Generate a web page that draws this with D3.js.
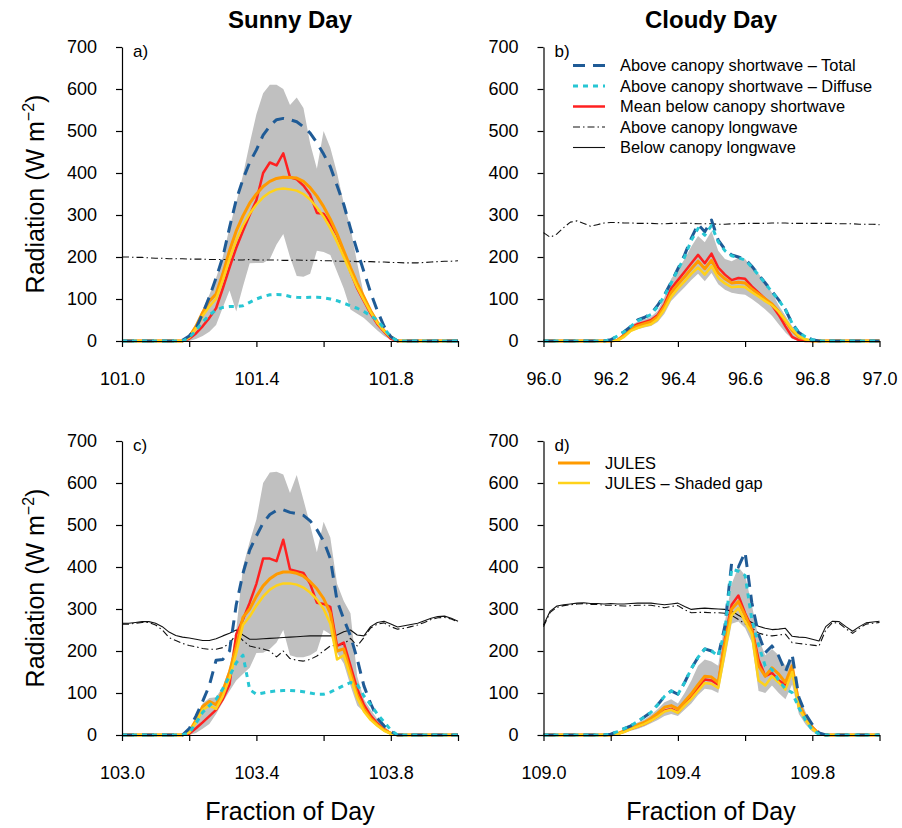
<!DOCTYPE html>
<html>
<head>
<meta charset="utf-8">
<script src="https://cdn.jsdelivr.net/npm/d3@7"></script>
<style>
  body { margin: 0; background: #fff; }
  text { font-family: Arial, "Liberation Sans", sans-serif; fill: #000; }
</style>
</head>
<body>
<svg id="chart" width="902" height="828"></svg>
<script>
// time step of the records (fraction of day)
var step = 0.02;

var yTicks = [0, 100, 200, 300, 400, 500, 600, 700];
var xTicksA = [101.0, 101.2, 101.4, 101.6, 101.8, 102.0], xLabelsA = [101.0, 101.4, 101.8];
var xTicksB = [96.0, 96.2, 96.4, 96.6, 96.8, 97.0],       xLabelsB = [96.0, 96.2, 96.4, 96.6, 96.8, 97.0];
var xTicksC = [103.0, 103.2, 103.4, 103.6, 103.8, 104.0], xLabelsC = [103.0, 103.4, 103.8];
var xTicksD = [109.0, 109.2, 109.4, 109.6, 109.8, 110.0], xLabelsD = [109.0, 109.4, 109.8];

// ---- a) sunny day 101 ----
var totalA   = [0,0,0,0,0,0,0,0,0, 2,12,30,65,105,150,200,270,336,385,425,455,490,512,527,530,527,522,510,495,472,445,415,370,325,268,215,165,115,72,35,10,0, 0,0,0,0,0,0,0,0,0];
var diffuseA = [0,0,0,0,0,0,0,0,0, 0,8,25,45,62,74,80,82,82,84,92,100,106,110,111,110,106,104,103,104,104,103,100,96,90,84,78,70,60,50,30,10,0, 0,0,0,0,0,0,0,0,0];
var redA     = [0,0,0,0,0,0,0,0,0, 0,5,18,35,55,78,125,175,222,262,300,335,400,425,418,447,390,385,370,348,305,303,280,252,210,165,125,95,65,40,22,5,0, 0,0,0,0,0,0,0,0,0];
var orangeA  = [0,0,0,0,0,0,0,0,0, 0,10,35,68,95,112,160,215,262,298,328,350,368,380,387,390,389,388,380,365,345,320,290,255,215,175,138,105,72,45,25,10,0, 0,0,0,0,0,0,0,0,0];
var yellowA  = [0,0,0,0,0,0,0,0,0, 0,8,30,60,82,100,145,195,240,275,303,325,342,354,361,363,361,358,350,337,318,296,268,236,200,163,128,97,68,43,24,9,0, 0,0,0,0,0,0,0,0,0];
var upperA   = [0,0,0,0,0,0,0,0,0, 0,15,40,75,110,150,200,270,330,395,470,540,590,610,610,600,562,580,555,470,410,500,460,400,328,270,185,110,78,50,28,12,0, 0,0,0,0,0,0,0,0,0];
var lowerA   = [0,0,0,0,0,0,0,0,0, 0,0,5,12,22,38,80,120,70,130,185,186,186,195,230,255,200,155,153,160,215,212,205,165,125,75,65,55,40,25,12,3,0, 0,0,0,0,0,0,0,0,0];
var lwAboveA = [200,200,199,199,198,197,197,196,196,196,195,195,195,194,194,194,194,193,193,194,193,193,193,193,192,192,193,192,192,192,191,191,190,190,190,189,189,189,188,188,187,187,186,186,186,187,188,189,190,190,191];

// ---- b) cloudy day 96 ----
var totalB   = [0,0,0,0,0,0,0,0,0, 0,3,12,22,35,50,56,65,85,110,140,172,205,245,278,260,288,240,218,205,200,195,178,158,138,118,98,75,42,20,10,3,0, 0,0,0,0,0,0,0,0,0];
var diffuseB = [0,0,0,0,0,0,0,0,0, 0,3,12,22,35,48,55,63,82,108,138,170,200,240,268,252,275,236,215,203,198,193,176,157,137,117,97,75,42,20,10,3,0, 0,0,0,0,0,0,0,0,0];
var redB     = [0,0,0,0,0,0,0,0,0, 0,0,2,15,32,40,45,50,62,88,125,145,165,185,205,185,208,175,158,145,150,148,130,115,100,85,62,35,10,2,0,0,0, 0,0,0,0,0,0,0,0,0];
var orangeB  = [0,0,0,0,0,0,0,0,0, 0,0,2,13,28,36,41,46,58,82,115,135,153,172,190,172,192,162,148,138,140,138,124,112,100,88,70,48,25,10,3,0,0, 0,0,0,0,0,0,0,0,0];
var yellowB  = [0,0,0,0,0,0,0,0,0, 0,0,1,10,24,31,36,40,52,75,105,125,142,160,175,158,178,150,137,128,130,128,116,106,95,85,70,50,28,12,4,0,0, 0,0,0,0,0,0,0,0,0];
var upperB   = [0,0,0,0,0,0,0,0,0, 0,0,4,20,38,46,52,58,72,105,148,170,195,225,250,235,262,215,195,190,198,195,175,160,140,115,85,60,35,15,5,0,0, 0,0,0,0,0,0,0,0,0];
var lowerB   = [0,0,0,0,0,0,0,0,0, 0,0,0,8,22,28,32,36,45,65,95,112,128,145,160,142,162,135,122,115,112,110,100,88,75,60,40,20,5,0,0,0,0, 0,0,0,0,0,0,0,0,0];
var lwAboveB = [258,247,255,270,283,286,280,273,277,281,282,282,281,281,280,280,280,279,279,280,280,281,280,279,279,279,278,278,279,279,280,280,280,280,281,281,281,280,280,280,280,280,280,280,279,279,279,278,278,278,277];

// ---- c) sunny day 103 ----
var totalC   = [0,0,0,0,0,0,0,0,0, 0,15,45,80,118,178,180,200,310,385,440,474,505,525,535,536,530,527,523,510,489,462,420,320,276,236,181,117,75,40,22,8,0, 0,0,0,0,0,0,0,0,0];
var diffuseC = [0,0,0,0,0,0,0,0,0, 0,5,28,54,70,85,110,140,172,190,108,97,100,103,105,106,106,105,103,100,97,97,102,110,118,125,120,93,72,50,31,12,0, 0,0,0,0,0,0,0,0,0];
var redC     = [0,0,0,0,0,0,0,0,0, 0,3,16,30,45,60,85,120,240,275,315,360,420,420,414,465,394,390,386,360,315,312,305,212,220,165,110,72,46,28,14,4,0, 0,0,0,0,0,0,0,0,0];
var orangeC  = [0,0,0,0,0,0,0,0,0, 0,8,35,68,80,72,105,150,210,280,300,330,355,372,383,388,388,385,378,365,348,325,290,200,205,150,95,62,40,24,12,4,0, 0,0,0,0,0,0,0,0,0];
var yellowC  = [0,0,0,0,0,0,0,0,0, 0,6,30,60,70,62,92,135,195,262,282,308,330,346,356,361,361,358,351,339,323,300,265,180,190,138,88,56,36,22,10,3,0, 0,0,0,0,0,0,0,0,0];
var upperC   = [0,0,0,0,0,0,0,0,0, 0,10,40,75,88,90,115,160,250,400,460,513,600,625,627,620,576,619,560,500,435,508,470,360,319,290,140,85,60,38,22,5,0, 0,0,0,0,0,0,0,0,0];
var lowerC   = [0,0,0,0,0,0,0,0,0, 0,0,5,15,26,50,78,105,130,145,160,195,196,205,220,250,190,185,185,190,200,250,240,196,170,117,70,55,45,30,18,5,0, 0,0,0,0,0,0,0,0,0];
var lwAboveC = [264,264,266,268,268,262,250,232,225,218,213,210,206,204,204,208,218,240,225,212,208,205,200,186,200,182,178,176,180,188,200,212,214,216,230,212,232,255,264,267,258,252,254,258,262,268,275,279,280,276,269];
var lwBelowC = [266,266,268,270,270,266,258,245,237,233,231,228,225,225,229,236,242,250,238,228,228,229,230,231,232,233,234,235,236,236,236,236,238,246,250,238,236,258,268,271,264,257,260,263,266,272,278,282,283,278,271];

// ---- d) cloudy day 109 ----
var totalD   = [0,0,0,0,0,0,0,0,0, 0,2,8,15,22,32,43,54,72,92,105,97,125,158,185,205,200,188,260,410,400,435,315,240,196,212,188,150,192,90,50,25,5, 0,0,0,0,0,0,0,0,0];
var diffuseD = [0,0,0,0,0,0,0,0,0, 0,2,8,15,22,32,43,54,72,92,105,97,125,158,185,205,200,188,250,395,390,380,275,215,164,156,130,110,101,65,35,12,2, 0,0,0,0,0,0,0,0,0];
var redD     = [0,0,0,0,0,0,0,0,0, 0,0,2,8,15,20,26,35,45,58,62,54,72,90,112,132,130,120,230,310,332,290,256,180,140,148,130,120,157,70,40,18,3, 0,0,0,0,0,0,0,0,0];
var orangeD  = [0,0,0,0,0,0,0,0,0, 0,0,3,10,18,24,30,40,52,66,70,62,80,98,120,140,138,125,220,300,318,285,250,165,140,160,145,125,165,75,42,18,3, 0,0,0,0,0,0,0,0,0];
var yellowD  = [0,0,0,0,0,0,0,0,0, 0,0,2,7,14,20,26,34,44,56,60,53,70,86,105,124,122,112,200,285,302,270,240,130,118,140,125,108,150,65,36,14,2, 0,0,0,0,0,0,0,0,0];
var upperD   = [0,0,0,0,0,0,0,0,0, 0,0,4,12,22,30,37,48,62,78,85,75,100,130,165,180,175,165,270,360,400,380,310,230,190,205,190,165,180,95,55,25,5, 0,0,0,0,0,0,0,0,0];
var lowerD   = [0,0,0,0,0,0,0,0,0, 0,0,1,5,10,14,20,28,36,45,50,45,60,75,95,110,108,100,180,265,270,255,220,105,100,118,100,85,120,50,25,8,1, 0,0,0,0,0,0,0,0,0];
var lwAboveD = [258,292,304,308,310,312,313,311,311,309,309,308,307,308,309,309,309,306,303,306,308,298,291,292,292,291,291,290,285,275,265,255,243,238,236,238,240,220,218,216,214,212,250,268,266,253,242,254,264,266,268];
var lwBelowD = [262,295,307,310,312,314,315,313,313,312,313,312,312,313,314,314,314,312,310,312,314,306,299,301,302,301,300,299,295,285,277,268,259,254,251,252,254,235,233,232,228,224,258,271,270,258,247,258,267,269,271];

// line styles
var styles = {
  total:   {stroke: "#1f5b96", width: 3,   dash: "12,8",       name: "Above canopy shortwave \u2013 Total"},
  diffuse: {stroke: "#27c6d3", width: 3,   dash: "5,5",        name: "Above canopy shortwave \u2013 Diffuse"},
  red:     {stroke: "#ff2020", width: 2.5, dash: null,         name: "Mean below canopy shortwave"},
  lwAbove: {stroke: "#111",    width: 1.1, dash: "7,3,1.5,3",  name: "Above canopy longwave"},
  lwBelow: {stroke: "#111",    width: 1.1, dash: null,         name: "Below canopy longwave"},
  orange:  {stroke: "#ff9a00", width: 3,   dash: null,         name: "JULES"},
  yellow:  {stroke: "#ffd21a", width: 2.5, dash: null,         name: "JULES \u2013 Shaded gap"}
};

var panels = [
  {tag: "a)", left: 122,   top: 47,  day: 101, ticks: xTicksA, labels: xLabelsA,
   s: {total: totalA, diffuse: diffuseA, red: redA, orange: orangeA, yellow: yellowA, upper: upperA, lower: lowerA, lwAbove: lwAboveA}},
  {tag: "b)", left: 543.5, top: 47,  day: 96,  ticks: xTicksB, labels: xLabelsB,
   s: {total: totalB, diffuse: diffuseB, red: redB, orange: orangeB, yellow: yellowB, upper: upperB, lower: lowerB, lwAbove: lwAboveB}},
  {tag: "c)", left: 122,   top: 441, day: 103, ticks: xTicksC, labels: xLabelsC,
   s: {total: totalC, diffuse: diffuseC, red: redC, orange: orangeC, yellow: yellowC, upper: upperC, lower: lowerC, lwAbove: lwAboveC, lwBelow: lwBelowC}},
  {tag: "d)", left: 543.5, top: 441, day: 109, ticks: xTicksD, labels: xLabelsD,
   s: {total: totalD, diffuse: diffuseD, red: redD, orange: orangeD, yellow: yellowD, upper: upperD, lower: lowerD, lwAbove: lwAboveD, lwBelow: lwBelowD}}
];

var pw = 336, ph = 294;
var svg = d3.select("#chart");

panels.forEach(function(p) {
  var x = d3.scaleLinear().domain([p.day, p.day + 1]).range([p.left, p.left + pw]);
  var y = d3.scaleLinear().domain([0, 700]).range([p.top + ph, p.top]);
  var t = function(i) { return p.day + i * step; };
  var g = svg.append("g");

  // min-max band
  var area = d3.area()
    .x(function(d, i) { return x(t(i)); })
    .y0(function(d, i) { return y(p.s.lower[i]); })
    .y1(function(d) { return y(d); });
  g.append("path").attr("d", area(p.s.upper)).attr("fill", "#c0c0c0");

  var line = d3.line()
    .x(function(d, i) { return x(t(i)); })
    .y(function(d) { return y(d); });

  ["lwAbove", "lwBelow", "red", "orange", "yellow", "total", "diffuse"].forEach(function(k) {
    if (!p.s[k]) return;
    var st = styles[k];
    g.append("path")
      .attr("d", line(p.s[k]))
      .attr("fill", "none")
      .attr("stroke", st.stroke)
      .attr("stroke-width", st.width)
      .attr("stroke-dasharray", st.dash)
      .attr("stroke-linejoin", "round");
  });

  // axes
  var xAxis = d3.axisBottom(x).tickValues(p.ticks).tickSize(6).tickSizeOuter(0).tickPadding(25)
    .tickFormat(function(d) {
      var show = p.labels.some(function(l) { return Math.abs(l - d) < 1e-6; });
      return show ? d3.format(".1f")(d) : "";
    });
  var gx = g.append("g").attr("transform", "translate(0," + (p.top + ph) + ")").call(xAxis);

  var yAxis = d3.axisLeft(y).tickValues(yTicks).tickSize(6).tickSizeOuter(0).tickPadding(19);
  var gy = g.append("g").attr("transform", "translate(" + p.left + ",0)").call(yAxis);

  [gx, gy].forEach(function(a) {
    a.attr("font-size", 18).attr("font-family", "Arial, 'Liberation Sans', sans-serif");
    a.selectAll("path, line").attr("stroke", "#000").attr("stroke-width", 1.2);
    a.selectAll("text").attr("fill", "#000");
  });

  g.append("text").attr("x", p.left + 11).attr("y", p.top + 10)
    .attr("font-size", 17).text(p.tag);
});

// titles
svg.append("text").attr("x", 290).attr("y", 28).attr("text-anchor", "middle")
  .attr("font-size", 24).attr("font-weight", "bold").text("Sunny Day");
svg.append("text").attr("x", 711).attr("y", 28).attr("text-anchor", "middle")
  .attr("font-size", 24).attr("font-weight", "bold").text("Cloudy Day");

// axis titles
[194, 588].forEach(function(cy) {
  var tx = svg.append("text").attr("text-anchor", "middle").attr("font-size", 25)
    .attr("transform", "translate(44," + cy + ") rotate(-90)");
  tx.append("tspan").text("Radiation (W m");
  tx.append("tspan").attr("font-size", 16).attr("dy", -10).text("\u22122");
  tx.append("tspan").attr("dy", 10).text(")");
});
[290, 711].forEach(function(cx) {
  svg.append("text").attr("x", cx).attr("y", 820).attr("text-anchor", "middle")
    .attr("font-size", 25).text("Fraction of Day");
});

// legends
function legend(keys, x0, y0, gap) {
  keys.forEach(function(k, i) {
    var st = styles[k], yy = y0 + i * gap;
    svg.append("line").attr("x1", x0).attr("x2", x0 + 32).attr("y1", yy).attr("y2", yy)
      .attr("stroke", st.stroke).attr("stroke-width", st.width).attr("stroke-dasharray", st.dash);
    svg.append("text").attr("x", x0 + 47).attr("y", yy).attr("dy", "0.35em")
      .attr("font-size", 16.4).text(st.name);
  });
}
legend(["total", "diffuse", "red", "lwAbove", "lwBelow"], 573, 65.5, 20.5);
legend(["orange", "yellow"], 558, 463, 20);
</script>
</body>
</html>
